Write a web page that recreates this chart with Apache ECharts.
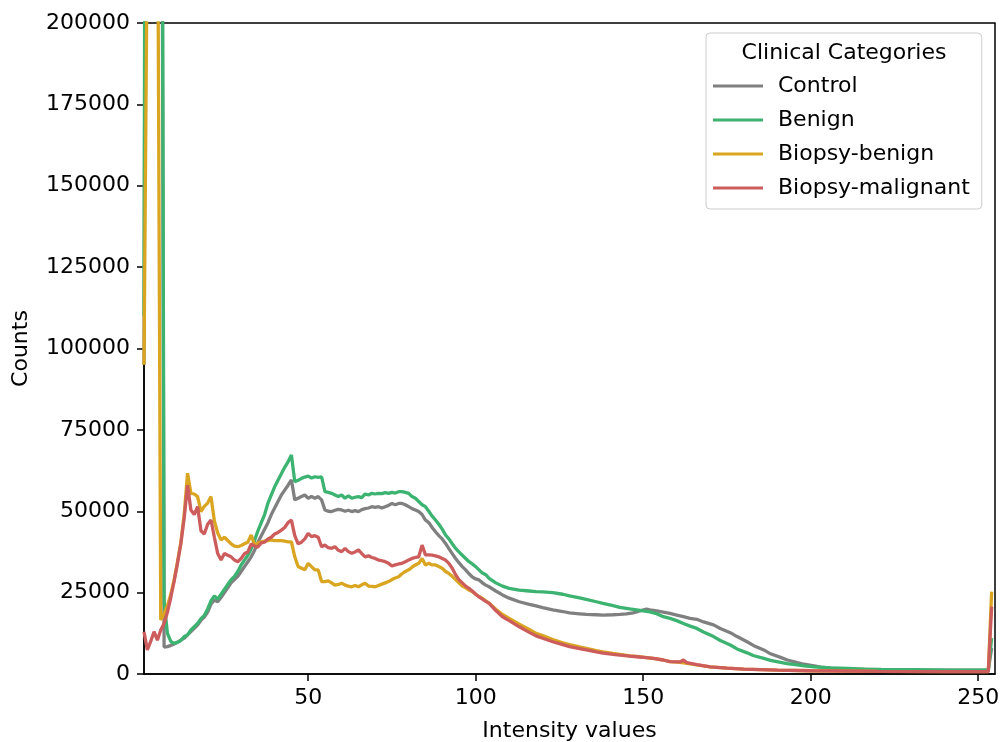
<!DOCTYPE html>
<html>
<head>
<meta charset="utf-8">
<script src="https://cdn.jsdelivr.net/npm/echarts@6/dist/echarts.min.js"></script>
<style>
html,body{margin:0;padding:0;background:#fff;}
#chart{width:1000px;height:742px;}
</style>
</head>
<body>
<div id="chart"></div>
<script>
const seriesNames = ['Control', 'Benign', 'Biopsy-benign', 'Biopsy-malignant'];
const xTicks = [50, 100, 150, 200, 250];
const yTicks = [0, 25000, 50000, 75000, 100000, 125000, 150000, 175000, 200000];

const control = [[1,95000],[2,500000],[3,900000],[4,900000],[5,700000],[6,400000],[7,8300],[8,8400],[9,8800],[10,9200],[11,9800],[12,10400],[13,11000],[14,12000],[15,13000],[16,14000],[17,15000],[18,16500],[19,17500],[20,19000],[21,21500],[22,22700],[23,22200],[24,23500],[25,25000],[26,26500],[27,28000],[28,29000],[29,30000],[30,31500],[31,33000],[32,34500],[33,36000],[34,38000],[35,40500],[36,42500],[37,44500],[38,46500],[39,49000],[40,51000],[41,53000],[42,55000],[43,56500],[44,58000],[45,59600],[46,53500],[47,54000],[48,54500],[49,55000],[50,54000],[51,54500],[52,54000],[53,54500],[54,53500],[55,50400],[56,50000],[57,49900],[58,50300],[59,50600],[60,50400],[61,50000],[62,50300],[63,49900],[64,50200],[65,49900],[66,50500],[67,50800],[68,51000],[69,51400],[70,51200],[71,51400],[72,51000],[73,51400],[74,51800],[75,52400],[76,52000],[77,52400],[78,52400],[79,52000],[80,51400],[81,50800],[82,50400],[83,49900],[84,49000],[85,47300],[86,46500],[87,45000],[88,43700],[89,42500],[90,41500],[91,40100],[92,38500],[93,37000],[94,35500],[95,34200],[96,33000],[97,32000],[98,30800],[99,29800],[100,29200],[101,28900],[102,28000],[103,27300],[104,26800],[106,25500],[108,24300],[110,23300],[113,22200],[116,21400],[118,20900],[120,20400],[123,19700],[126,19200],[128,18800],[131,18500],[133,18300],[136,18200],[138,18100],[141,18200],[143,18300],[145,18500],[147,18800],[149,19400],[151,19900],[152,19700],[154,19400],[156,19000],[158,18600],[160,18100],[162,17600],[164,17100],[166,16800],[168,16000],[171,15100],[173,14000],[176,12700],[178,11500],[181,9900],[183,8700],[186,7400],[188,6200],[191,5100],[193,4300],[196,3500],[198,3000],[201,2500],[203,2100],[206,1800],[211,1500],[216,1400],[221,1300],[231,1200],[241,1200],[251,1200],[253,1200],[254,8000]];

const benign = [[1,110000],[2,600000],[3,1000000],[4,1000000],[5,800000],[6,450000],[7,22000],[8,12500],[9,10000],[10,9400],[11,9700],[12,10300],[13,11500],[14,12000],[15,13500],[16,14500],[17,15500],[18,17000],[19,18000],[20,20000],[21,22500],[22,24000],[23,23000],[24,24500],[25,26000],[26,27500],[27,29000],[28,30000],[29,31500],[30,33500],[31,35000],[32,36500],[33,38500],[34,41000],[35,44000],[36,46500],[37,49000],[38,52500],[39,55000],[40,57500],[41,59500],[42,61500],[43,63500],[44,65200],[45,67300],[46,59100],[47,59500],[48,60100],[49,60500],[50,60800],[51,60200],[52,60600],[53,60400],[54,60600],[55,56000],[56,55800],[57,55500],[58,55000],[59,54500],[60,55000],[61,54000],[62,54700],[63,54000],[64,54300],[65,54500],[66,54200],[67,55300],[68,55000],[69,55500],[70,55300],[71,55500],[72,55400],[73,55700],[74,55500],[75,55800],[76,55600],[77,56000],[78,56000],[79,55800],[80,55500],[81,54500],[82,54000],[83,53000],[84,52000],[85,51400],[86,50000],[87,48500],[88,47300],[89,46000],[90,44500],[91,42700],[92,41500],[93,40000],[94,38600],[95,37500],[96,36500],[97,35500],[98,34500],[99,33800],[100,33000],[101,32000],[102,31000],[103,30500],[104,29400],[106,28000],[108,27000],[110,26300],[113,25800],[116,25500],[118,25300],[120,25200],[123,25000],[126,24500],[128,24000],[131,23400],[133,22900],[136,22200],[138,21700],[141,21000],[143,20500],[146,20000],[148,19700],[150,19400],[152,19100],[154,18500],[156,17600],[158,17100],[160,16400],[162,15500],[164,14700],[166,14000],[168,12900],[171,11500],[173,10300],[176,8900],[178,7700],[181,6500],[183,5600],[186,4800],[188,4200],[191,3600],[193,3200],[196,2800],[198,2500],[201,2200],[206,1900],[211,1700],[216,1500],[221,1400],[231,1300],[241,1200],[251,1200],[253,1200],[254,11000]];

const biopsyBenign = [[1,95000],[2,230000],[3,600000],[4,800000],[5,260000],[6,16600],[7,18500],[8,21000],[9,24500],[10,29000],[11,34500],[12,40500],[13,49000],[14,61700],[15,55500],[16,55300],[17,54500],[18,49900],[19,51500],[20,52500],[21,54500],[22,47000],[23,43300],[24,41200],[25,42000],[26,41000],[27,40000],[28,39300],[29,39100],[30,39500],[31,40000],[32,40500],[33,42700],[34,39600],[35,40200],[36,40600],[37,40800],[38,41000],[39,41200],[40,41000],[41,41000],[42,41000],[43,40800],[44,40600],[45,40600],[46,36000],[47,33000],[48,32500],[49,32000],[50,34000],[51,33000],[52,32000],[53,32000],[54,28400],[55,28400],[56,28600],[57,28000],[58,27300],[59,27500],[60,27900],[61,27300],[62,27000],[63,26800],[64,27200],[65,26800],[66,27400],[67,27900],[68,27000],[69,26900],[70,26800],[71,27200],[72,27600],[73,28000],[74,28400],[75,29000],[76,29500],[77,29900],[78,30800],[79,31500],[80,32000],[81,32800],[82,33500],[83,34000],[84,35500],[85,33500],[86,34000],[87,33500],[88,33500],[89,33000],[90,32500],[91,31500],[92,30900],[93,30000],[94,29000],[95,28000],[96,27000],[97,26500],[98,25800],[99,25300],[100,24500],[101,23800],[102,23200],[103,22500],[104,21800],[106,19900],[108,18300],[110,17100],[113,15300],[116,13700],[118,12500],[120,11800],[123,10600],[126,9600],[128,9000],[131,8300],[133,7900],[136,7200],[138,6800],[141,6300],[143,6000],[146,5600],[148,5400],[151,5000],[153,4800],[156,4300],[158,3800],[161,3600],[163,3300],[166,2800],[170,2200],[175,1800],[180,1500],[190,1200],[200,1000],[220,800],[240,700],[253,700],[254,25300]];

const biopsyMalignant = [[1,13000],[2,7400],[3,10000],[4,13000],[5,10400],[6,13500],[7,15500],[8,19000],[9,23500],[10,28500],[11,34000],[12,40000],[13,48000],[14,58000],[15,50400],[16,49000],[17,51400],[18,44000],[19,43000],[20,46000],[21,47300],[22,42000],[23,37000],[24,35000],[25,37000],[26,36500],[27,36000],[28,35000],[29,34500],[30,35500],[31,37000],[32,37500],[33,40000],[34,39300],[35,39000],[36,40300],[37,40500],[38,41500],[39,42000],[40,43000],[41,43500],[42,44200],[43,45000],[44,46500],[45,47300],[46,42500],[47,40000],[48,40500],[49,41500],[50,43200],[51,42200],[52,42500],[53,42000],[54,39100],[55,39600],[56,38800],[57,38600],[58,39100],[59,38000],[60,37600],[61,38600],[62,37600],[63,37100],[64,37500],[65,38100],[66,37000],[67,36000],[68,36300],[69,35800],[70,35500],[71,35000],[72,34800],[73,34500],[74,34000],[75,33200],[76,33500],[77,33800],[78,34000],[79,34500],[80,35000],[81,35500],[82,35800],[83,36000],[84,39600],[85,36600],[86,36600],[87,36500],[88,36300],[89,36000],[90,35500],[91,35000],[92,34000],[93,32500],[94,30500],[95,29000],[96,28000],[97,27000],[98,26300],[99,25500],[100,24500],[101,23700],[102,23000],[103,22300],[104,21700],[106,19500],[108,17600],[110,16400],[113,14500],[116,12800],[118,11700],[120,11000],[123,9900],[126,9000],[128,8400],[131,7800],[133,7400],[136,6800],[138,6400],[141,6000],[143,5800],[146,5500],[148,5300],[151,5000],[153,4800],[156,4300],[158,3800],[161,3700],[162,4300],[163,3500],[166,2900],[170,2200],[175,1800],[180,1500],[190,1200],[200,1000],[220,800],[240,700],[253,700],[254,20700]];

const colors = ['#808080', '#3cb371', '#daa520', '#cd5c5c'];
const allData = [control, benign, biopsyBenign, biopsyMalignant];
const FONT = 'DejaVu Sans';
const FS = 22;

const chart = echarts.init(document.getElementById('chart'), null, {renderer: 'canvas'});
chart.setOption({
  animation: false,
  backgroundColor: '#ffffff',
  textStyle: {fontFamily: FONT, color: '#000'},
  grid: {left: 144, right: 5, top: 23, bottom: 68, containLabel: false, outerBoundsMode: 'none',
         show: true, borderColor: '#000', borderWidth: 1.5, backgroundColor: 'transparent'},
  xAxis: {
    type: 'value', min: 1, max: 255,
    name: 'Intensity values', nameLocation: 'middle', nameGap: 46,
    nameTextStyle: {fontFamily: FONT, fontSize: FS, color: '#000'},
    axisLine: {show: true, onZero: false, lineStyle: {color: '#000', width: 1.5}},
    axisTick: {show: true, length: 7, lineStyle: {color: '#000', width: 1.5}, customValues: xTicks},
    axisLabel: {fontFamily: FONT, fontSize: FS, color: '#000', margin: 13, customValues: xTicks},
    splitLine: {show: false}
  },
  yAxis: {
    type: 'value', min: 0, max: 200000, interval: 25000,
    name: 'Counts', nameLocation: 'middle', nameGap: 112, nameRotate: 90,
    nameTextStyle: {fontFamily: FONT, fontSize: FS, color: '#000'},
    axisLine: {show: true, onZero: false, lineStyle: {color: '#000', width: 1.5}},
    axisTick: {show: true, length: 7, lineStyle: {color: '#000', width: 1.5}},
    axisLabel: {fontFamily: FONT, fontSize: FS, color: '#000', margin: 14, formatter: v => String(v)},
    splitLine: {show: false}
  },
  legend: {
    orient: 'vertical', left: 706, top: 33,
    padding: [42, 12, 10, 7],
    itemWidth: 50, itemHeight: 3, itemGap: 12,
    icon: 'rect',
    backgroundColor: 'rgba(255,255,255,0.8)',
    borderColor: '#cccccc', borderWidth: 1, borderRadius: 4,
    textStyle: {fontFamily: FONT, fontSize: FS, color: '#000', padding: [0, 0, 0, 10]},
    data: seriesNames
  },
  graphic: [{
    type: 'text', x: 844, y: 53, z: 100,
    style: {text: 'Clinical Categories', font: FS + 'px "DejaVu Sans"', fill: '#000', align: 'center', verticalAlign: 'middle'}
  }],
  series: allData.map((d, i) => ({
    name: seriesNames[i], type: 'line', data: d,
    showSymbol: false, symbol: 'none', clip: true,
    lineStyle: {color: colors[i], width: 3.3},
    itemStyle: {color: colors[i]},
    z: 2 + i
  }))
});
</script>
</body>
</html>
